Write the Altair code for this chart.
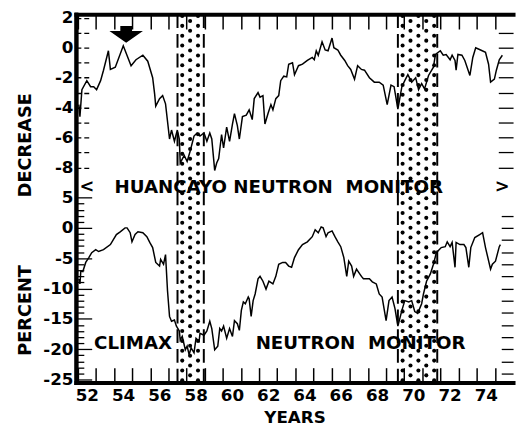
import altair as alt
import pandas as pd
import numpy as np

# ---------------- data ----------------
# Huancayo neutron monitor (percent decrease), x in years (19xx)
hy_year = [51.56, 51.62, 51.73, 52.00, 52.21, 52.38, 52.54, 52.76, 52.92, 53.19, 53.30, 53.57,
           54.01, 54.44, 54.71, 55.09, 55.36, 55.63, 55.74, 55.80, 56.01, 56.18, 56.34, 56.56,
           56.67, 56.83, 56.99, 57.10, 57.15, 57.37, 57.53, 57.70, 57.91, 58.08, 58.24, 58.46,
           58.62, 58.78, 58.89, 59.05, 59.16, 59.27, 59.43, 59.54, 59.71, 59.87, 60.03, 60.14,
           60.30, 60.41, 60.58, 60.79, 60.95, 61.12, 61.23, 61.44, 61.55, 61.71, 61.82, 61.99,
           62.15, 62.26, 62.42, 62.58, 62.69, 62.86, 63.02, 63.13, 63.34, 63.45, 63.67, 63.89,
           64.16, 64.43, 64.54, 64.65, 64.76, 64.97, 65.14, 65.30, 65.52, 65.62, 65.84, 66.00,
           66.22, 66.38, 66.55, 66.76, 66.93, 67.14, 67.31, 67.58, 67.85, 68.12, 68.34, 68.56,
           68.77, 68.94, 69.15, 69.37, 69.53, 69.70, 69.91, 70.13, 70.29, 70.46, 70.62, 70.84,
           71.11, 71.22, 71.49, 71.65, 71.81, 72.03, 72.14, 72.30, 72.36, 72.46, 72.68, 72.84,
           73.12, 73.28, 73.44, 73.71, 73.98, 74.15, 74.26, 74.47, 74.58, 74.74, 74.91]
hy_val = [-3.8, -4.6, -2.8, -2.2, -2.6, -2.6, -2.8, -2.2, -1.5, -0.2, -1.45, -1.3,
          0.13, -1.2, -0.8, -0.5, -0.9, -2.0, -3.1, -3.9, -3.4, -3.2, -3.75, -6.1,
          -5.5, -6.25, -5.5, -6.1, -7.7, -7.2, -7.6, -6.9, -5.9, -5.7, -5.9, -5.7,
          -6.25, -5.7, -6.1, -8.2, -7.7, -7.4, -5.8, -6.7, -5.3, -6.25, -5.1, -4.4,
          -5.2, -6.1, -4.6, -4.5, -4.15, -4.8, -3.4, -3.0, -3.3, -3.2, -5.1, -4.4,
          -3.8, -4.15, -3.4, -3.2, -2.2, -1.9, -1.95, -1.1, -1.0, -1.8, -1.2, -1.1,
          -0.85, -0.65, -0.8, -0.2, -0.5, 0.4, -0.15, -0.2, 0.65, 0.0, -0.15, -0.5,
          -0.85, -1.2, -1.45, -2.1, -1.2, -1.45, -1.5, -2.0, -2.3, -2.3, -2.5, -3.8,
          -2.5, -2.6, -4.1, -2.6, -2.2, -1.8, -2.3, -2.0, -2.8, -2.4, -2.75, -1.85,
          -1.3, -0.45, -0.2, -0.5, -0.45, -0.8, -0.5, -0.85, -1.5, -0.45, -0.5, -0.85,
          -1.85, -0.65, 0.0, -0.15, -0.3, -1.1, -2.3, -2.1, -1.5, -0.8, -0.5]

# Climax neutron monitor (percent decrease)
cl_year = [51.56, 51.62, 51.67, 51.78, 51.94, 52.11, 52.27, 52.49, 52.65, 52.92, 53.30, 53.63,
           53.84, 54.11, 54.22, 54.39, 54.49, 54.66, 54.82, 55.09, 55.31, 55.47, 55.63, 55.80,
           56.01, 56.07, 56.23, 56.34, 56.45, 56.56, 56.67, 56.83, 56.94, 57.10, 57.15, 57.26,
           57.43, 57.53, 57.64, 57.75, 57.91, 58.02, 58.19, 58.24, 58.46, 58.62, 58.78, 58.89,
           59.05, 59.22, 59.33, 59.43, 59.54, 59.71, 59.87, 60.03, 60.14, 60.30, 60.41, 60.52,
           60.63, 60.74, 60.90, 60.95, 61.06, 61.17, 61.28, 61.44, 61.55, 61.71, 61.88, 62.04,
           62.26, 62.42, 62.58, 62.80, 62.96, 63.13, 63.29, 63.45, 63.67, 63.89, 64.16, 64.43,
           64.59, 64.76, 64.92, 65.03, 65.19, 65.30, 65.52, 65.68, 65.84, 66.00, 66.17, 66.33,
           66.44, 66.60, 66.71, 66.87, 66.98, 67.14, 67.25, 67.41, 67.58, 67.74, 67.96, 68.12,
           68.28, 68.50, 68.66, 68.83, 68.99, 69.15, 69.37, 69.53, 69.75, 69.91, 70.08, 70.24,
           70.46, 70.56, 70.73, 70.94, 71.11, 71.27, 71.54, 71.76, 71.87, 72.03, 72.14, 72.30,
           72.36, 72.57, 72.79, 72.90, 73.06, 73.17, 73.39, 73.66, 73.82, 73.98, 74.26, 74.36,
           74.53, 74.74, 74.80]
cl_val = [-8.4, -9.25, -7.1, -7.2, -5.7, -4.9, -4.1, -3.6, -3.9, -3.6, -2.75, -1.1,
          -0.65, 0.0, 0.0, -0.8, -2.3, -1.1, -0.65, -0.8, -1.45, -2.4, -3.25, -5.7,
          -6.3, -5.2, -6.0, -4.4, -10.4, -14.6, -15.4, -15.2, -16.2, -17.0, -18.5, -17.9,
          -20.1, -19.5, -20.9, -19.8, -20.6, -18.2, -18.7, -17.4, -17.7, -17.0, -15.4, -16.6,
          -20.1, -19.5, -16.6, -17.0, -16.2, -18.2, -16.6, -17.9, -15.3, -15.8, -16.9, -13.6,
          -12.2, -12.5, -11.4, -11.7, -14.6, -12.0, -10.9, -8.4, -8.0, -8.8, -10.1, -8.8,
          -9.25, -8.0, -6.0, -5.7, -5.7, -6.3, -6.5, -4.9, -3.6, -2.75, -2.3, -1.45,
          -0.3, -0.8, 0.15, 0.0, -1.45, -0.8, -0.5, -1.45, -2.3, -3.1, -4.9, -8.0,
          -5.5, -6.3, -8.0, -6.8, -7.3, -8.0, -8.4, -8.4, -8.4, -8.9, -9.25, -10.9,
          -11.4, -15.3, -12.0, -11.4, -13.3, -16.2, -13.6, -12.0, -12.2, -12.0, -13.8, -14.1,
          -12.5, -10.9, -8.8, -7.6, -6.0, -4.1, -3.25, -3.1, -2.3, -3.1, -2.4, -6.5,
          -2.4, -2.75, -2.75, -3.25, -6.5, -3.25, -1.6, -1.1, -0.8, -3.25, -6.8, -6.0,
          -5.5, -3.1, -2.75]

# shaded (dotted) intervals, years
region_start = [57.0, 69.15]
region_end = [58.45, 71.32]

# arrow marker (top panel)
arrow_year = [54.17]
arrow_val = [0.89]

# text labels
lab_text = ["HUANCAYO NEUTRON\u00a0\u00a0MONITOR", "CLIMAX", "NEUTRON\u00a0\u00a0MONITOR"]
lab_year = [62.58, 54.55, 67.09]
lab_val = [6.66, -19.0, -19.0]
side_text = ["<", ">"]
side_year = [52.0, 74.9]
side_val = [6.66, 6.66]

# axis tick values
x_label_years = list(range(52, 75, 2))
x_tick_years = [y + 0.5 for y in range(51, 75)]
top_labels = [2, 0, -2, -4, -6, -8]
top_ticks = list(range(-8, 3))
bot_labels = [5, 0, -5, -10, -15, -20, -25]
bot_ticks = list(range(-25, 6))
top_right_ticks = list(range(-8, 2))
bot_right_ticks = list(range(-24, 3, 2))

# ---------------- layout ----------------
W, H = 444, 374
XDOM = [51.4, 75.5]
YTOP = [-22.37, 2.24]
YBOT = [-25.49, 35.23]
FONT = "DejaVu Sans"
NB = "\u00a0"

xs = alt.Scale(domain=XDOM, nice=False, zero=False)
yt = alt.Scale(domain=YTOP, nice=False, zero=False)
yb = alt.Scale(domain=YBOT, nice=False, zero=False)

df_top = pd.DataFrame({"year": hy_year, "val": hy_val})
df_bot = pd.DataFrame({"year": cl_year, "val": cl_val})

dots = []
for s, e in zip(region_start, region_end):
    cols = np.arange(s + 0.26, e - 0.1, 0.435)
    for i, c in enumerate(cols):
        off = 0.329 if i % 2 else 0.0
        for v in np.arange(YTOP[1] - 0.12 - off, YTOP[0] + 0.1, -0.658):
            dots.append({"year": float(c), "val": float(v)})
df_dots = pd.DataFrame(dots)
df_rules = pd.DataFrame({"year": region_start + region_end})
df_arrow = pd.DataFrame({"year": arrow_year, "val": arrow_val})
df_lab = pd.DataFrame({"t": lab_text, "year": lab_year, "val": lab_val})
df_side = pd.DataFrame({"t": side_text, "year": side_year, "val": side_val})

lab_style = dict(labelFont=FONT, labelFontSize=17, labelFontWeight="bold", labelColor="black")
no_axis_x = alt.X("year:Q", scale=xs, axis=None)

top_line = alt.Chart(df_top).mark_line(color="black", strokeWidth=1.5).encode(
    x=alt.X("year:Q", scale=xs, axis=alt.Axis(
        orient="bottom", values=x_label_years, ticks=False, grid=False,
        domainWidth=4, domainColor="black", domainCap="square",
        labelPadding=5, labelExpr="'' + datum.value", **lab_style,
        title="YEARS", titleFont=FONT, titleFontSize=17, titleFontWeight="bold",
        titleColor="black", titlePadding=7)),
    y=alt.Y("val:Q", scale=yt, axis=alt.Axis(
        orient="left", values=top_labels, ticks=False, grid=False,
        domainWidth=4, domainColor="black", domainCap="square",
        labelPadding=3, labelExpr="'' + datum.value", **lab_style,
        title="PERCENT" + NB * 11 + "DECREASE", titleFont=FONT, titleFontSize=18,
        titleFontWeight="bold", titleColor="black", titleX=-51, titleY=213,
        titleAlign="center", titleBaseline="middle")),
)

bot_line = alt.Chart(df_bot).mark_line(color="black", strokeWidth=1.5).encode(
    x=no_axis_x,
    y=alt.Y("val:Q", scale=yb, axis=alt.Axis(
        orient="left", values=bot_labels, ticks=False, grid=False,
        domainWidth=4, domainColor="black", domainCap="square",
        labelPadding=3, labelExpr="'' + datum.value", **lab_style, title=None)),
)

dot_layer = alt.Chart(df_dots).mark_point(filled=True, color="black", size=17, opacity=1).encode(
    x=alt.X("year:Q", scale=xs, axis=alt.Axis(
        orient="top", offset=-H, values=x_tick_years, labels=False, domain=False,
        grid=False, tickSize=15, tickWidth=1.5, tickColor="black", title=None)),
    y=alt.Y("val:Q", scale=yt, axis=alt.Axis(
        orient="right", offset=-W, values=top_ticks, labels=False, domain=False,
        grid=False, tickSize=13, tickWidth=1.3, tickColor="black", tickDash=[5, 3], title=None)),
)

rule_layer = alt.Chart(df_rules).mark_rule(color="black", strokeWidth=2, strokeDash=[14, 6]).encode(
    x=alt.X("year:Q", scale=xs, axis=alt.Axis(
        orient="bottom", offset=-H, values=x_tick_years, labels=False,
        domain=True, domainWidth=4, domainColor="black", domainCap="square",
        grid=False, tickSize=15, tickWidth=1.5, tickColor="black", title=None)),
)

arrow_layer = alt.Chart(df_arrow).mark_point(
    shape="M-0.35,-0.5 L0.35,-0.5 L0.35,-0.2 L1,-0.2 L0,0.5 L-1,-0.2 L-0.35,-0.2 Z",
    filled=True, color="black", size=1156, opacity=1).encode(
    x=no_axis_x,
    y=alt.Y("val:Q", scale=yt, axis=alt.Axis(
        orient="left", offset=-W, values=top_right_ticks, labels=False, domain=False,
        grid=False, tickSize=15, tickWidth=1.3, tickColor="black", title=None)),
)

text_layer = alt.Chart(df_lab).mark_text(
    font=FONT, fontSize=18.5, fontWeight="bold", color="black", align="center", baseline="middle").encode(
    x=no_axis_x,
    y=alt.Y("val:Q", scale=yb, axis=alt.Axis(
        orient="right", offset=-W, values=bot_ticks, labels=False, domain=False,
        grid=False, tickWidth=1.3, tickColor="black", title=None,
        tickSize={"condition": {"test": "datum.value % 5 === 0", "value": 16}, "value": 8})),
    text="t:N",
)

side_layer = alt.Chart(df_side).mark_text(
    font=FONT, fontSize=18, fontWeight="bold", color="black", align="center", baseline="middle").encode(
    x=no_axis_x,
    y=alt.Y("val:Q", scale=yb, axis=alt.Axis(
        orient="left", offset=-W, values=bot_right_ticks, labels=False, domain=False,
        grid=False, tickSize=12, tickWidth=1.3, tickColor="black", title=None)),
    text="t:N",
)

chart = alt.layer(
    dot_layer, rule_layer, top_line, bot_line, arrow_layer, text_layer, side_layer
).resolve_scale(x="independent", y="independent").properties(
    width=W, height=H,
    autosize=alt.AutoSizeParams(type="none"),
    padding={"left": 69, "top": 3, "right": 4, "bottom": 47},
    background="white",
).configure_view(stroke=None)

chart.save("out.html", embed_options={"renderer": "svg", "actions": False})
